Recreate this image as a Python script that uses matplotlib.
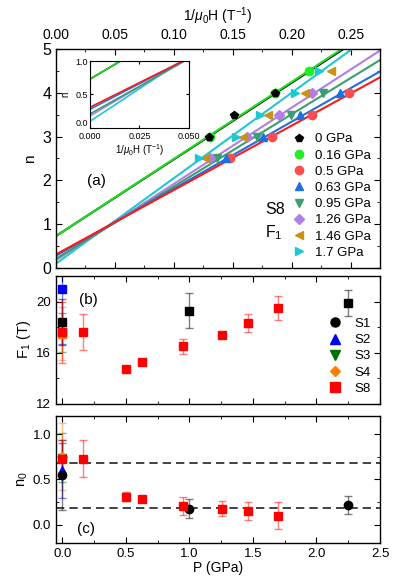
import matplotlib
matplotlib.use('Agg')
import matplotlib.pyplot as plt
from matplotlib.lines import Line2D
from matplotlib.ticker import MultipleLocator
import numpy as np

plt.rcParams['font.family'] = ['Liberation Sans', 'DejaVu Sans']
plt.rcParams['mathtext.fontset'] = 'custom'
plt.rcParams['mathtext.rm'] = 'Liberation Sans'
plt.rcParams['mathtext.it'] = 'Liberation Sans:italic'
plt.rcParams['font.size'] = 9
plt.rcParams['xtick.direction'] = 'in'
plt.rcParams['ytick.direction'] = 'in'
plt.rcParams['axes.linewidth'] = 1.0

# ---------------- panel (a): Landau fan, S8 ----------------
p_labels = ['0 GPa', '0.16 GPa', '0.5 GPa', '0.63 GPa', '0.95 GPa', '1.26 GPa', '1.46 GPa', '1.7 GPa']
p_colors = ['#000000', '#22ee22', '#ff4c4c', '#1f6fe0', '#3a9e6e', '#b07ee6', '#c99212', '#1ec8d2']
p_markers = ['p', 'o', 'o', '^', 'v', 'D', '<', '>']

inv_b_0 = [0.130, 0.151, 0.186]
n_0 = [3.0, 3.5, 4.0]
inv_b_016 = [0.131, 0.186, 0.2145]
n_016 = [3.0, 4.0, 4.5]
inv_b_05 = [0.148, 0.183, 0.217, 0.249]
n_05 = [2.5, 3.0, 3.5, 4.0]
inv_b_063 = [0.144, 0.176, 0.2074, 0.2414]
n_063 = [2.5, 3.0, 3.5, 4.0]
inv_b_095 = [0.137, 0.1705, 0.1997, 0.227]
n_095 = [2.5, 3.0, 3.5, 4.0]
inv_b_126 = [0.131, 0.162, 0.1895, 0.217]
n_126 = [2.5, 3.0, 3.5, 4.0]
inv_b_146 = [0.1265, 0.159, 0.180, 0.211, 0.233]
n_146 = [2.5, 3.0, 3.5, 4.0, 4.5]
inv_b_17 = [0.121, 0.153, 0.173, 0.203, 0.2235]
n_17 = [2.5, 3.0, 3.5, 4.0, 4.5]

fan_x = [inv_b_0, inv_b_016, inv_b_05, inv_b_063, inv_b_095, inv_b_126, inv_b_146, inv_b_17]
fan_n = [n_0, n_016, n_05, n_063, n_095, n_126, n_146, n_17]

# linear fits n = n0 + F1 / (mu0 H); None -> no line drawn
fit_f1 = [17.5, 17.6, 14.7, 15.3, 16.5, 17.4, None, 19.5]
fit_n0 = [0.73, 0.73, 0.31, 0.28, 0.21, 0.18, None, 0.10]
line_colors = ['#000000', '#22dd22', '#ff1a1a', '#1f6fe0', '#3a9e6e', '#b07ee6', None, '#1ec8d2']
line_order = [0, 6, 7, 5, 4, 3, 2, 1]  # green on top of black, red over the bundle

# ---------------- panel (b) and (c): F1 and n0 vs P ----------------
s8_p = [0.0, 0.16, 0.5, 0.63, 0.95, 1.26, 1.46, 1.7]
s8_f1 = [17.6, 17.6, 14.7, 15.3, 16.5, 17.4, 18.3, 19.5]
s8_f1_err = [2.4, 1.4, 0.15, 0.1, 0.6, 0.25, 0.7, 0.9]
s8_n0 = [0.73, 0.73, 0.31, 0.28, 0.21, 0.18, 0.15, 0.10]
s8_n0_err = [0.2, 0.2, 0.05, 0.02, 0.1, 0.08, 0.1, 0.15]

s1_p = [0.0, 1.0, 2.25]
s1_f1 = [18.4, 19.3, 19.9]
s1_f1_err = [1.8, 1.35, 1.0]
s1_n0 = [0.55, 0.18, 0.22]
s1_n0_err = [0.39, 0.1, 0.1]

s2_p = [0.0]
s2_f1 = [21.0]
s2_f1_err = [4.3]
s2_n0 = [0.60]
s2_n0_err = [0.30]

s3_p = [0.0]
s3_f1 = [17.6]
s3_f1_err = [1.5]
s3_n0 = [0.74]
s3_n0_err = [0.27]

s4_p = [0.0]
s4_f1 = [17.5]
s4_f1_err = [2.1]
s4_n0 = [0.75]
s4_n0_err = [0.37]

sample_names = ['S1', 'S2', 'S3', 'S4', 'S8']
sample_colors = ['#000000', '#0000ff', '#007000', '#ff8000', '#ff0000']
sample_markers = ['o', '^', 'v', 'D', 's']
sample_p = [s1_p, s2_p, s3_p, s4_p, s8_p]
sample_f1 = [s1_f1, s2_f1, s3_f1, s4_f1, s8_f1]
sample_f1_err = [s1_f1_err, s2_f1_err, s3_f1_err, s4_f1_err, s8_f1_err]
sample_n0 = [s1_n0, s2_n0, s3_n0, s4_n0, s8_n0]
sample_n0_err = [s1_n0_err, s2_n0_err, s3_n0_err, s4_n0_err, s8_n0_err]
draw_order = [2, 3, 1, 0, 4]

n0_levels = [0.68, 0.185]

fig = plt.figure(figsize=(3.95, 5.86), dpi=100)
ax_a = fig.add_axes([0.1418, 0.5427, 0.8203, 0.3737])
ax_b = fig.add_axes([0.1418, 0.3106, 0.8203, 0.2184])
ax_c = fig.add_axes([0.1418, 0.0734, 0.8203, 0.2167])
ax_in = fig.add_axes([0.2278, 0.7816, 0.2506, 0.1143])

# ---- (a) ----
xfit = np.linspace(0, 0.3, 50)
for i in line_order:
    if fit_f1[i] is None:
        continue
    for ax in (ax_a, ax_in):
        ax.plot(xfit, fit_n0[i] + fit_f1[i] * xfit, color=line_colors[i], lw=1.5 if ax is ax_a else 1.2,
                zorder=2)
for i in range(len(p_labels)):
    # black markers sit on top of the others
    ax_a.plot(fan_x[i], fan_n[i], linestyle='none', marker=p_markers[i], color=p_colors[i],
              ms=6 if p_markers[i] != 'D' else 5, mec=p_colors[i], label=p_labels[i],
              zorder=4 if i == 0 else 3)

ax_a.set_xlim(0, 0.275)
ax_a.set_ylim(0, 5)
ax_a.xaxis.tick_top()
ax_a.xaxis.set_label_position('top')
ax_a.set_xlabel(r'1/$\mu_0$H (T$^{-1}$)', fontsize=10, labelpad=5)
ax_a.set_ylabel('n', fontsize=11)
ax_a.xaxis.set_major_locator(MultipleLocator(0.05))
ax_a.xaxis.set_minor_locator(MultipleLocator(0.025))
ax_a.yaxis.set_major_locator(MultipleLocator(1))
ax_a.yaxis.set_minor_locator(MultipleLocator(0.5))
ax_a.xaxis.set_major_formatter(plt.FormatStrFormatter('%.2f'))
ax_a.tick_params(which='both', top=True, bottom=True, left=True, right=True)
ax_a.tick_params(axis='x', labelsize=10, labeltop=True, labelbottom=False, pad=5)
ax_a.tick_params(axis='y', labelsize=11.5)
ax_a.tick_params(which='major', length=4)
ax_a.tick_params(which='minor', length=2.5)
ax_a.legend(loc='lower right', bbox_to_anchor=(1.0, 0.0), frameon=False, fontsize=9.5,
            handlelength=1.0, handletextpad=0.7, labelspacing=0.3, borderaxespad=0.3)
ax_a.text(0.095, 0.38, '(a)', transform=ax_a.transAxes, fontsize=11)
ax_a.text(0.645, 0.265, 'S8', transform=ax_a.transAxes, fontsize=11.5, va='center')
ax_a.text(0.645, 0.16, r'F$_1$', transform=ax_a.transAxes, fontsize=11.5, va='center')

ax_in.set_xlim(0, 0.05)
ax_in.set_ylim(0, 1)
ax_in.set_xticks([0, 0.025, 0.05])
ax_in.set_xticklabels(['0.000', '0.025', '0.050'])
ax_in.set_yticks([0, 0.5, 1.0])
ax_in.set_yticklabels(['0.0', '0.5', '1.0'])
ax_in.tick_params(labelsize=6.5, length=2.5, top=True, right=True)
ax_in.tick_params(axis='x', pad=3)
ax_in.tick_params(axis='y', pad=1.5)
ax_in.get_yticklabels()[0].set_va('bottom')
ax_in.set_xlabel(r'1/$\mu_0$H (T$^{-1}$)', fontsize=7, labelpad=1)
ax_in.set_ylabel('n', fontsize=7)
ax_in.yaxis.set_label_coords(-0.2, 0.5)
for sp in ax_in.spines.values():
    sp.set_linewidth(0.8)

# ---- (b) ----
for k in draw_order:
    ax_b.errorbar(sample_p[k], sample_f1[k], yerr=sample_f1_err[k], fmt='none',
                  ecolor=sample_colors[k], alpha=0.5, capsize=3, elinewidth=1, capthick=1, zorder=2)
    ax_b.plot(sample_p[k], sample_f1[k], linestyle='none', marker='s', ms=6,
              color=sample_colors[k], zorder=3)
handles = [Line2D([], [], linestyle='none', marker=m, color=c, ms=6.5 if m != 'D' else 5.5)
           for m, c in zip(sample_markers, sample_colors)]
ax_b.legend(handles, sample_names, loc='lower right', frameon=False, fontsize=9.5,
            handlelength=1.0, handletextpad=1.0, labelspacing=0.3, borderaxespad=0.3)
ax_b.set_xlim(-0.05, 2.5)
ax_b.set_ylim(12, 22)
ax_b.xaxis.set_major_locator(MultipleLocator(0.5))
ax_b.xaxis.set_minor_locator(MultipleLocator(0.25))
ax_b.yaxis.set_major_locator(MultipleLocator(4))
ax_b.yaxis.set_minor_locator(MultipleLocator(2))
ax_b.tick_params(which='both', top=True, right=True, labelbottom=False, labelsize=9.5)
ax_b.tick_params(which='major', length=4)
ax_b.tick_params(which='minor', length=2.5)
ax_b.set_ylabel(r'F$_1$ (T)', fontsize=10.5, labelpad=2)
ax_b.text(0.07, 0.78, '(b)', transform=ax_b.transAxes, fontsize=11)

# ---- (c) ----
for lev in n0_levels:
    ax_c.axhline(lev, color='#222222', linestyle=(0, (5, 3)), lw=1.2, zorder=1)
for k in draw_order:
    ax_c.errorbar(sample_p[k], sample_n0[k], yerr=sample_n0_err[k], fmt='none',
                  ecolor=sample_colors[k], alpha=0.5, capsize=3, elinewidth=1, capthick=1, zorder=2)
    ax_c.plot(sample_p[k], sample_n0[k], linestyle='none', marker=sample_markers[k],
              ms=6 if sample_markers[k] != 'D' else 5, color=sample_colors[k], zorder=3)
ax_c.set_xlim(-0.05, 2.5)
ax_c.set_ylim(-0.2, 1.2)
ax_c.xaxis.set_major_locator(MultipleLocator(0.5))
ax_c.xaxis.set_minor_locator(MultipleLocator(0.25))
ax_c.yaxis.set_major_locator(MultipleLocator(0.5))
ax_c.yaxis.set_minor_locator(MultipleLocator(0.25))
ax_c.xaxis.set_major_formatter(plt.FormatStrFormatter('%.1f'))
ax_c.yaxis.set_major_formatter(plt.FormatStrFormatter('%.1f'))
ax_c.tick_params(which='both', top=True, right=True, labelsize=9.5)
ax_c.tick_params(which='major', length=4)
ax_c.tick_params(which='minor', length=2.5)
ax_c.set_ylabel(r'n$_0$', fontsize=10.5, labelpad=2)
ax_c.set_xlabel('P (GPa)', fontsize=10, labelpad=1)
ax_c.text(0.065, 0.08, '(c)', transform=ax_c.transAxes, fontsize=11)

fig.savefig('out.png', dpi=100)
